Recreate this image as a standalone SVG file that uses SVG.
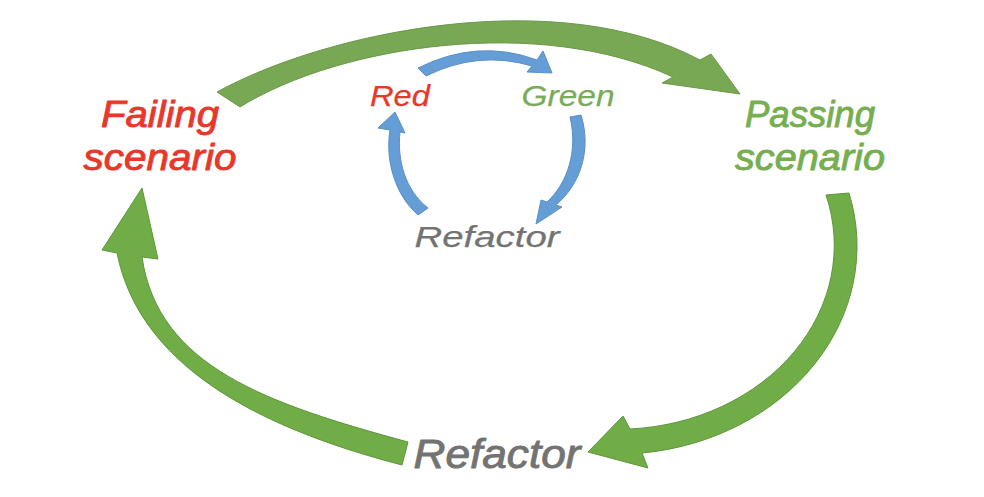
<svg xmlns="http://www.w3.org/2000/svg" width="984" height="497" viewBox="0 0 984 497">
<style>
.lbl{font-family:"Liberation Sans",Arial,sans-serif;font-style:italic;font-weight:normal;text-anchor:middle;stroke-width:0.9;stroke-linejoin:round}
.big{font-size:37px}
.small{font-size:29px;stroke-width:0.25}
.red{fill:#e8382b;stroke:#e8382b}
.grn{fill:#76ae50;stroke:#76ae50}
.grn2{fill:#7aab58;stroke:#7aab58}
.gry{fill:#737373;stroke:#737373}
.ga{fill:#70ad47;stroke:#5e963a;stroke-width:1}
.gt{fill:#78a854;stroke:#6a9a48;stroke-width:1}
.ba{fill:#659dd6;stroke:#5a8fc6;stroke-width:1}
</style>
<rect width="984" height="497" fill="#ffffff"/>
<g id="connectors">
  <path id="c-top" class="gt" d="M217,92 C330,30 560,-15 700,60 L711,54 L740,94 L662,83 L673,77 C540,15 340,45 240,107 Z"/>
  <path id="c-right" class="ga" d="M849,193 A241,208 0 0 1 642,453 L648,468 L588,452 L623,416 L630,429 A217,184 0 0 0 826,195 Z"/>
  <path id="c-left" class="ga" d="M402,465 C252,426 139,363 117,253 L102,250 L142,188 L158,259 L142,257 C158,367 268,404 408,442 Z"/>
  <path id="c-b-top" class="ba" d="M418,68 Q478,38 537,60 L543,51 L552,73 L527,72 L532,66 Q478,50 426,76 Z"/>
  <path id="c-b-right" class="ba" d="M570,117 L581,115 C592,150 580,185 556,205 L562,207 L536,224 L541,200 L547,202 C568,183 578,150 570,117 Z"/>
  <path id="c-b-left" class="ba" d="M418,215 C395,195 385,160 390,130 L378,128 L395,112 L405,133 L400,132 C397,160 405,190 428,208 Z"/>
</g>
<g id="failing">
  <text class="lbl big red"><tspan x="160" y="127" textLength="118" lengthAdjust="spacingAndGlyphs">Failing</tspan><tspan x="160" y="170" textLength="153" lengthAdjust="spacingAndGlyphs">scenario</tspan></text>
</g>
<g id="passing">
  <text class="lbl big grn"><tspan x="810" y="127" textLength="130" lengthAdjust="spacingAndGlyphs">Passing</tspan><tspan x="810" y="170" textLength="150" lengthAdjust="spacingAndGlyphs">scenario</tspan></text>
</g>
<g id="refactor-big">
  <text class="lbl big gry" x="497" y="468" style="font-size:40px" textLength="167" lengthAdjust="spacingAndGlyphs">Refactor</text>
</g>
<g id="red">
  <text class="lbl small red" x="400" y="106" textLength="60" lengthAdjust="spacingAndGlyphs">Red</text>
</g>
<g id="green">
  <text class="lbl small grn2" x="568" y="106" textLength="93" lengthAdjust="spacingAndGlyphs">Green</text>
</g>
<g id="refactor-small">
  <text class="lbl small gry" x="487" y="247" textLength="145" lengthAdjust="spacingAndGlyphs">Refactor</text>
</g>
</svg>
